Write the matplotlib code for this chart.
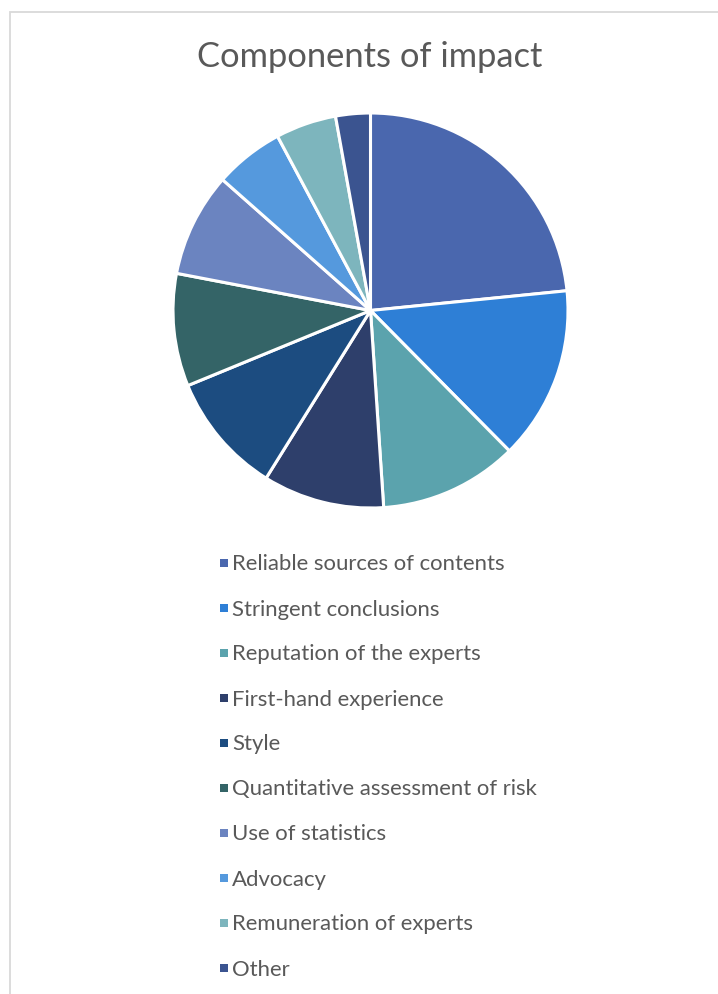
import matplotlib
matplotlib.use("Agg")
import matplotlib.pyplot as plt
from matplotlib.patches import Rectangle

title = "Components of impact"
categories = [
    "Reliable sources of contents",
    "Stringent conclusions",
    "Reputation of the experts",
    "First-hand experience",
    "Style",
    "Quantitative assessment of risk",
    "Use of statistics",
    "Advocacy",
    "Remuneration of experts",
    "Other",
]
values = [33, 20, 16, 14, 14, 13, 12, 8, 7, 4]
colors = ["#4a67ae", "#2e7fd6", "#5ba3ad", "#2e3f6b", "#1c4c80",
          "#346467", "#6b84c0", "#5599dd", "#7db5bd", "#3b5490"]

W, H = 718, 994
DPI = 100
plt.rcParams['font.family'] = ['Lato', 'DejaVu Sans']
fig = plt.figure(figsize=(W / DPI, H / DPI), dpi=DPI)
fig.patch.set_facecolor("white")

def fx(px):
    return px / W

def fy(py):
    return 1 - py / H

# chart border
fig.add_artist(Rectangle((fx(9.5), fy(1000)), fx(720), (1000 - 12.5) / H,
                         transform=fig.transFigure, fill=False,
                         edgecolor="#d9d9d9", linewidth=1.3))

# title
fig.text(fx(369.5), fy(67), title, ha="center", va="baseline",
         fontsize=24.8, color="#595959")

# pie
cx, cy, r = 370.5, 310.5, 197.5
ax = fig.add_axes([fx(cx - r), fy(cy + r), 2 * r / W, 2 * r / H])
wedges, _ = ax.pie(values, colors=colors, startangle=90, counterclock=False,
                   radius=1.0,
                   wedgeprops=dict(edgecolor="white", linewidth=2.2))
ax.set_xlim(-1, 1)
ax.set_ylim(-1, 1)
ax.set_aspect("equal")
ax.axis("off")

# legend
y0, dy = 563, 45
for i, (lab, col) in enumerate(zip(categories, colors)):
    yc = y0 + i * dy
    fig.add_artist(Rectangle((fx(220), fy(yc + 4)), fx(8), 8 / H,
                             transform=fig.transFigure, facecolor=col,
                             edgecolor="none"))
    fig.text(fx(232), fy(yc + 7.5), lab, ha="left", va="baseline",
             fontsize=15.9, color="#595959")

fig.savefig("out.png", dpi=DPI, facecolor="white")
